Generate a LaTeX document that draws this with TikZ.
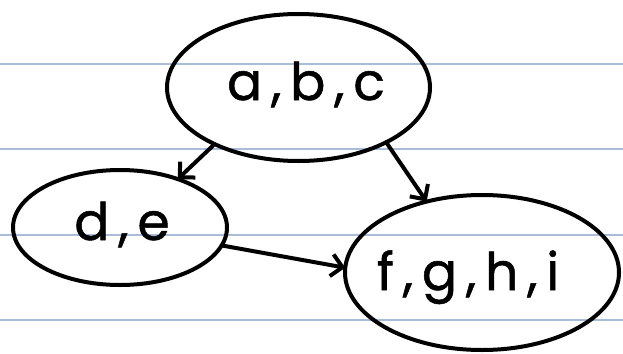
\documentclass[tikz,border=0pt]{standalone}
\usepackage{fontspec}
\setmainfont{Poppins}
\newfontfamily\handfont[LetterSpace=17,FakeBold=1]{Poppins}
\usetikzlibrary{shapes.geometric,arrows.meta}
\definecolor{ruleblue}{HTML}{A9BCD9}
\tikzset{
  setnode/.style={draw=black, line width=4pt, ellipse, inner sep=0pt, outer sep=0pt},
  lbl/.style={anchor=base, inner sep=0pt, font=\handfont\fontsize{52}{52}\selectfont},
  conn/.style={line width=4pt, -{Straight Barb[length=11pt,width=22pt,line width=4pt]}, line cap=round},
  rule/.style={ruleblue, line width=1.6pt}
}
\begin{document}
\begin{tikzpicture}[x=1pt,y=-1pt]
\useasboundingbox (0,0) rectangle (623,353);
\fill[white] (0,0) rectangle (623,353);
\foreach \yy in {64,149,235,320} {\draw[rule] (0,\yy) -- (623,\yy);}
\node[setnode, minimum width=263pt, minimum height=147pt] (abc) at (298.5,87.5) {};
\node[setnode, minimum width=214pt, minimum height=115pt] (de) at (120,227.5) {};
\node[setnode, minimum width=274pt, minimum height=155pt] (fghi) at (482,272.5) {};
\node[lbl] (tabc) at (306,100) {a,b,c};
\node[lbl] (tde) at (122,240) {d,e};
\node[lbl] (tfghi) at (468,290) {f,g,h,i};
\draw[conn] (abc.214) -- (de.40);
\draw[conn] (abc.328) -- (fghi.128);
\draw[conn] (de.350) -- (fghi.178);
\end{tikzpicture}
\end{document}
